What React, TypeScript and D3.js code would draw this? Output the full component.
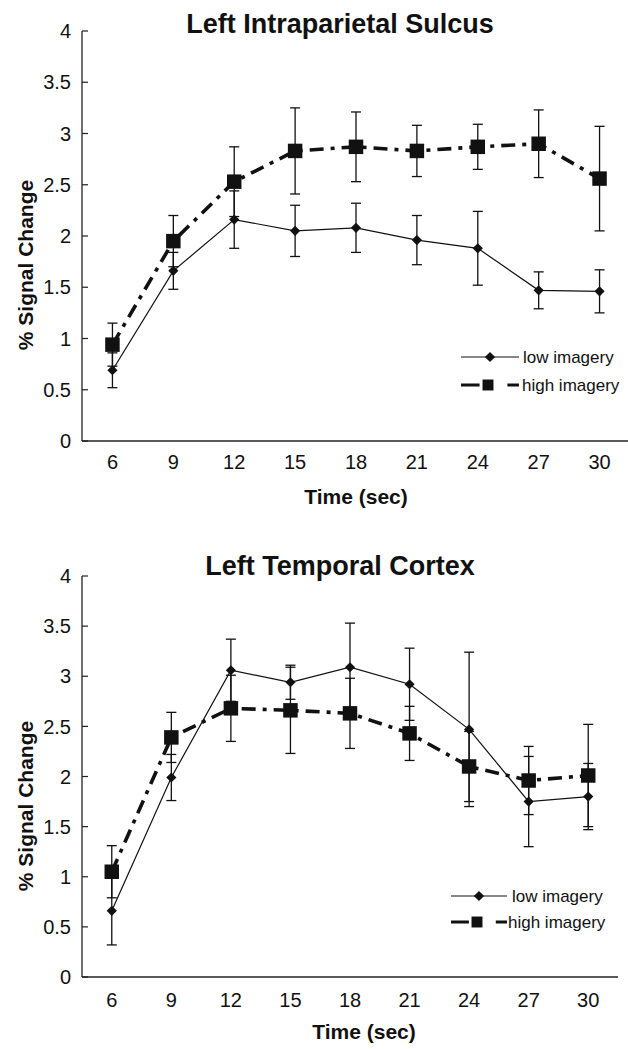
import React from "react";
import * as d3 from "d3";

const timeLabels = ["6", "9", "12", "15", "18", "21", "24", "27", "30"];
const yTicks = [0, 0.5, 1, 1.5, 2, 2.5, 3, 3.5, 4];
const yTickLabels = ["0", "0.5", "1", "1.5", "2", "2.5", "3", "3.5", "4"];
const seriesNames = ["low imagery", "high imagery"];

const parietalTitle = "Left Intraparietal Sulcus";
const parietalLow = [0.69, 1.66, 2.16, 2.05, 2.08, 1.96, 1.88, 1.47, 1.46];
const parietalLowErr = [0.17, 0.18, 0.28, 0.25, 0.24, 0.24, 0.36, 0.18, 0.21];
const parietalHigh = [0.94, 1.95, 2.53, 2.83, 2.87, 2.83, 2.87, 2.9, 2.56];
const parietalHighErr = [0.21, 0.25, 0.34, 0.42, 0.34, 0.25, 0.22, 0.33, 0.51];

const temporalTitle = "Left Temporal Cortex";
const temporalLow = [0.66, 1.99, 3.06, 2.94, 3.09, 2.92, 2.47, 1.75, 1.8];
const temporalLowErr = [0.34, 0.23, 0.31, 0.17, 0.44, 0.36, 0.77, 0.45, 0.33];
const temporalHigh = [1.05, 2.39, 2.68, 2.66, 2.63, 2.43, 2.1, 1.96, 2.01];
const temporalHighErr = [0.26, 0.25, 0.33, 0.43, 0.35, 0.27, 0.35, 0.34, 0.51];

const FONT = "'Liberation Sans', Arial, Helvetica, sans-serif";
const INK = "#111";

type Layout = {
  left: number;
  bandRight: number;
  axisRight: number;
  yTop: number;
  yBottom: number;
  titleX: number;
  titleY: number;
  yLabelX: number;
  yLabelY: number;
  xLabelX: number;
  xLabelY: number;
  tickLabelY: number;
  legLineX0: number;
  legLineX1: number;
  legY0: number;
  legY1: number;
  legTextX0: number;
  legTextX1: number;
};

const diamondPath = d3.symbol(d3.symbolSquare, 52)() as string;
const squarePath = d3.symbol(d3.symbolSquare, 210)() as string;
const legendSquarePath = d3.symbol(d3.symbolSquare, 120)() as string;

const HIGH_DASH = "14,7,4,7";

function Panel(props: {
  title: string;
  low: number[];
  lowErr: number[];
  high: number[];
  highErr: number[];
  L: Layout;
}) {
  const { title, low, lowErr, high, highErr, L } = props;
  const x = d3.scaleBand<string>().domain(timeLabels).range([L.left, L.bandRight]);
  const y = d3.scaleLinear().domain([0, 4]).range([L.yBottom, L.yTop]);
  const cx = (i: number) => (x(timeLabels[i]) as number) + x.bandwidth() / 2;
  const line = d3
    .line<number>()
    .x((_, i) => cx(i))
    .y((d) => y(d));
  const capW = 5;

  const errBars = (vals: number[], errs: number[], key: string) =>
    vals.map((v, i) => {
      const x0 = cx(i);
      const y1 = y(v + errs[i]);
      const y2 = y(v - errs[i]);
      return (
        <g key={key + i} stroke={INK} strokeWidth={1.3}>
          <line x1={x0} x2={x0} y1={y1} y2={y2} />
          <line x1={x0 - capW} x2={x0 + capW} y1={y1} y2={y1} />
          <line x1={x0 - capW} x2={x0 + capW} y1={y2} y2={y2} />
        </g>
      );
    });

  const legMid = (L.legLineX0 + L.legLineX1) / 2;
  const legLen = L.legLineX1 - L.legLineX0;

  return (
    <g>
      <text
        x={L.titleX}
        y={L.titleY}
        textAnchor="middle"
        fontFamily={FONT}
        fontWeight="bold"
        fontSize={27}
        fill={INK}
      >
        {title}
      </text>
      <line x1={L.left} x2={L.left} y1={L.yTop} y2={L.yBottom} stroke="#222" strokeWidth={1.3} />
      <line x1={L.left} x2={L.axisRight} y1={L.yBottom} y2={L.yBottom} stroke="#222" strokeWidth={1.3} />
      {yTicks.map((t, i) => (
        <g key={"yt" + i}>
          <line x1={L.left} x2={L.left + 6} y1={y(t)} y2={y(t)} stroke="#222" strokeWidth={1.2} />
          <text
            x={L.left - 11}
            y={y(t)}
            dy="0.36em"
            textAnchor="end"
            fontFamily={FONT}
            fontSize={20}
            fill={INK}
          >
            {yTickLabels[i]}
          </text>
        </g>
      ))}
      {timeLabels.map((t, i) => (
        <text
          key={"xt" + i}
          x={cx(i)}
          y={L.tickLabelY}
          textAnchor="middle"
          fontFamily={FONT}
          fontSize={20}
          fill={INK}
        >
          {t}
        </text>
      ))}
      <text
        x={L.xLabelX}
        y={L.xLabelY}
        textAnchor="middle"
        fontFamily={FONT}
        fontWeight="bold"
        fontSize={21}
        fill={INK}
      >
        Time (sec)
      </text>
      <text
        transform={`translate(${L.yLabelX},${L.yLabelY}) rotate(-90)`}
        textAnchor="middle"
        fontFamily={FONT}
        fontWeight="bold"
        fontSize={21}
        fill={INK}
      >
        % Signal Change
      </text>
      {errBars(low, lowErr, "le")}
      {errBars(high, highErr, "he")}
      <path d={line(low) as string} fill="none" stroke={INK} strokeWidth={1.2} />
      {low.map((v, i) => (
        <path key={"ld" + i} d={diamondPath} transform={`translate(${cx(i)},${y(v)}) rotate(45)`} fill={INK} />
      ))}
      <path
        d={line(high) as string}
        fill="none"
        stroke={INK}
        strokeWidth={3.6}
        strokeDasharray={HIGH_DASH}
      />
      {high.map((v, i) => (
        <path key={"hs" + i} d={squarePath} transform={`translate(${cx(i)},${y(v)})`} fill={INK} />
      ))}
      <line x1={L.legLineX0} x2={L.legLineX1} y1={L.legY0} y2={L.legY0} stroke={INK} strokeWidth={1.2} />
      <path d={diamondPath} transform={`translate(${legMid},${L.legY0}) rotate(45)`} fill={INK} />
      <text x={L.legTextX0} y={L.legY0} dy="0.36em" fontFamily={FONT} fontSize={17} fill={INK}>
        {seriesNames[0]}
      </text>
      <line
        x1={L.legLineX0}
        x2={L.legLineX1}
        y1={L.legY1}
        y2={L.legY1}
        stroke={INK}
        strokeWidth={3.2}
        strokeDasharray={`${legLen * 0.32},${legLen * 0.48},${legLen * 0.2},100`}
      />
      <path d={legendSquarePath} transform={`translate(${legMid - 2},${L.legY1})`} fill={INK} />
      <text x={L.legTextX1} y={L.legY1} dy="0.36em" fontFamily={FONT} fontSize={17} fill={INK}>
        {seriesNames[1]}
      </text>
    </g>
  );
}

const topLayout: Layout = {
  left: 82,
  bandRight: 630,
  axisRight: 628,
  yTop: 31,
  yBottom: 441,
  titleX: 340,
  titleY: 33,
  yLabelX: 33,
  yLabelY: 265,
  xLabelX: 356,
  xLabelY: 504,
  tickLabelY: 469,
  legLineX0: 461,
  legLineX1: 519,
  legY0: 357,
  legY1: 385,
  legTextX0: 523,
  legTextX1: 522,
};

const bottomLayout: Layout = {
  left: 82,
  bandRight: 618,
  axisRight: 618,
  yTop: 576,
  yBottom: 977,
  titleX: 340,
  titleY: 575,
  yLabelX: 33,
  yLabelY: 806,
  xLabelX: 364,
  xLabelY: 1039,
  tickLabelY: 1007,
  legLineX0: 451,
  legLineX1: 507,
  legY0: 896,
  legY1: 922,
  legTextX0: 512,
  legTextX1: 508,
};

export default function App() {
  return (
    <svg
      width={628}
      height={1049}
      viewBox="0 0 628 1049"
      style={{ position: "absolute", left: 0, top: 0, background: "#fff" }}
    >
      <rect width={628} height={1049} fill="#fff" />
      <Panel
        title={parietalTitle}
        low={parietalLow}
        lowErr={parietalLowErr}
        high={parietalHigh}
        highErr={parietalHighErr}
        L={topLayout}
      />
      <Panel
        title={temporalTitle}
        low={temporalLow}
        lowErr={temporalLowErr}
        high={temporalHigh}
        highErr={temporalHighErr}
        L={bottomLayout}
      />
    </svg>
  );
}
